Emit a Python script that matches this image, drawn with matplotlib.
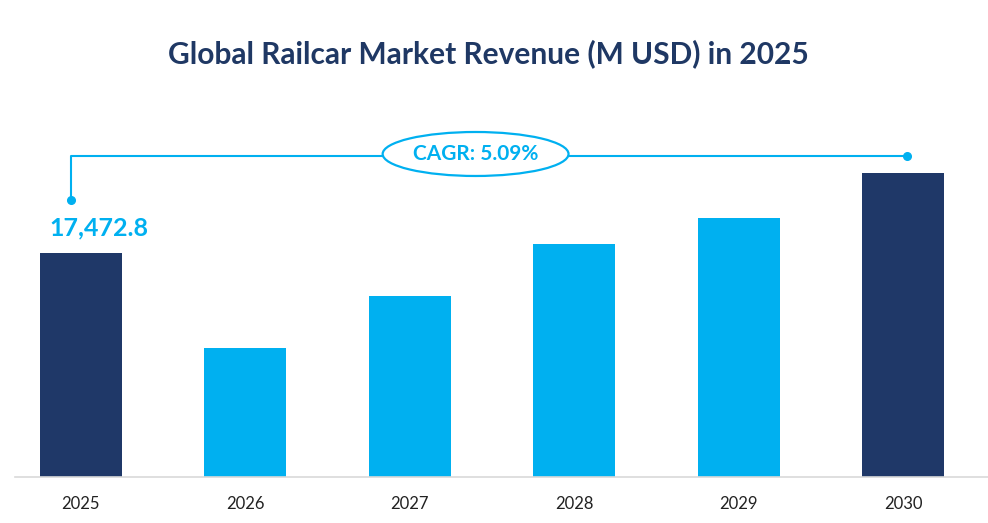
import matplotlib
matplotlib.use("Agg")
import matplotlib.pyplot as plt
from matplotlib.patches import Ellipse

YEARS = ["2025", "2026", "2027", "2028", "2029", "2030"]
REVENUE = [17472.8, 10060, 14120, 18180, 20200, 23710]
FIRST_LABEL = "17,472.8"
CAGR_TEXT = "CAGR: 5.09%"
TITLE = "Global Railcar Market Revenue (M USD) in 2025"

NAVY = "#1F3868"
CYAN = "#00B0F0"
bar_colors = [NAVY, CYAN, CYAN, CYAN, CYAN, NAVY]

plt.rcParams["font.family"] = ["Lato", "DejaVu Sans"]

fig = plt.figure(figsize=(9.88, 5.23), dpi=100)
ax = fig.add_axes([15 / 988, 46 / 523, 973 / 988, 377 / 523])

x = list(range(len(YEARS)))
ax.bar(x, REVENUE, width=0.5, color=bar_colors, zorder=2)
ax.set_xlim(-0.4, 5.515)
ax.set_ylim(0, 29400)

for s in ("top", "left", "right"):
    ax.spines[s].set_visible(False)
ax.spines["bottom"].set_color("#D9D9D9")
ax.spines["bottom"].set_linewidth(1.2)
ax.set_yticks([])
ax.set_xticks(x)
ax.set_xticklabels(YEARS, fontsize=12, color="#222222")
ax.tick_params(axis="x", length=0, pad=14)

# value label on first bar
ax.text(0.11, REVENUE[0] + 1950, FIRST_LABEL, ha="center", va="center",
        fontsize=18, fontweight="bold", color=CYAN)

# CAGR bracket
y_line = 25040
y_dot = 21600
xl, xr = -0.06, 5.02
ax.plot([xl, xl, xr], [y_dot, y_line, y_line], color=CYAN, lw=1.5, zorder=3)
ax.plot([xl, xr], [y_dot, y_line], "o", color=CYAN, ms=5.5, zorder=4)
ax.add_patch(Ellipse((2.4, y_line + 150), 1.13, 3430, facecolor="white",
                     edgecolor=CYAN, lw=1.6, zorder=5))
ax.text(2.4, y_line + 150, CAGR_TEXT, ha="center", va="center", fontsize=15,
        fontweight="bold", color=CYAN, zorder=6)

fig.text(0.494, 0.898, TITLE, ha="center", va="center", fontsize=21.5,
         fontweight="bold", color="#1F3864")

fig.savefig("out.png", dpi=100)
